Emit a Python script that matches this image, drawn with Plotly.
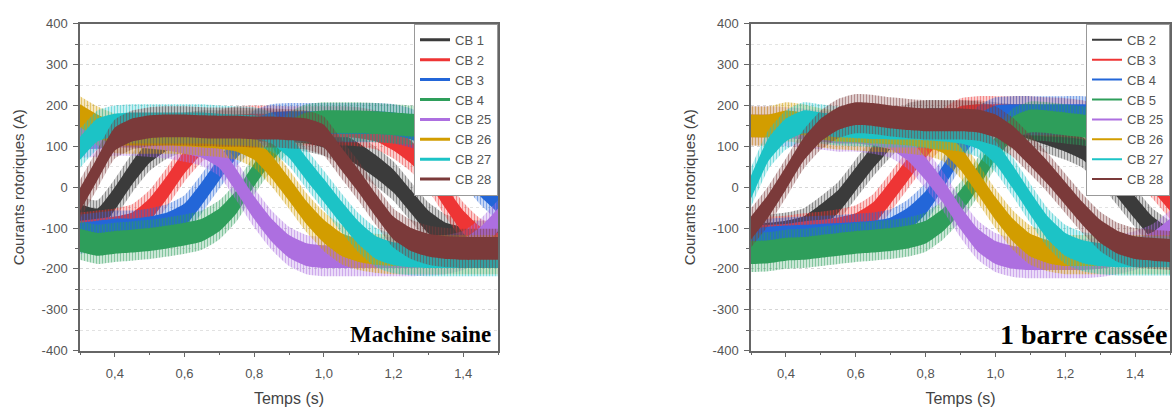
import plotly.graph_objects as go

# ---------------- data ----------------
T = [0.30, 0.35, 0.40, 0.45, 0.50, 0.55, 0.60, 0.65, 0.70, 0.75, 0.80, 0.85, 0.90,
     0.95, 1.00, 1.05, 1.10, 1.15, 1.20, 1.25, 1.30, 1.35, 1.40, 1.45, 1.50]

LEFT_NAMES = ["CB 1", "CB 2", "CB 3", "CB 4", "CB 25", "CB 26", "CB 27", "CB 28"]
RIGHT_NAMES = ["CB 2", "CB 3", "CB 4", "CB 5", "CB 25", "CB 26", "CB 27", "CB 28"]

# Machine saine (centre of each current band, A)
L_CB1 = [-70, -80, -28, 35, 88, 118, 135, 140, 140, 140, 140, 140, 138, 135, 125, 105, 80, 50, 15, -35, -85, -115, -125, -130, -130]
L_CB2 = [-110, -105, -100, -90, -55, 0, 62, 110, 140, 150, 152, 152, 150, 150, 150, 150, 148, 140, 118, 86, 40, -25, -85, -125, -140]
L_CB3 = [-115, -110, -105, -105, -100, -90, -68, -15, 45, 100, 140, 155, 158, 158, 158, 158, 158, 158, 155, 145, 125, 95, 55, 5, -35]
L_CB4 = [-130, -140, -135, -132, -128, -122, -115, -105, -80, -35, 30, 90, 135, 155, 160, 160, 160, 158, 155, 152, 150, 150, 145, 125, 80]
L_CB25 = [120, 122, 125, 125, 122, 118, 110, 100, 75, 15, -50, -105, -145, -165, -170, -170, -170, -170, -170, -170, -168, -165, -155, -125, -80]
L_CB26 = [175, 150, 132, 130, 130, 130, 128, 125, 122, 115, 95, 50, -5, -62, -108, -140, -155, -162, -165, -165, -165, -165, -165, -165, -165]
L_CB27 = [95, 140, 152, 155, 155, 155, 155, 155, 152, 150, 148, 135, 100, 45, -8, -62, -112, -148, -163, -168, -170, -170, -170, -170, -170]
L_CB28 = [-30, 45, 118, 140, 148, 150, 150, 148, 147, 147, 145, 145, 143, 140, 125, 70, 15, -45, -100, -128, -142, -148, -150, -150, -150]

# 1 barre cassee
R_CB2 = [-120, -115, -110, -100, -70, -35, 20, 75, 122, 158, 165, 165, 165, 165, 160, 155, 145, 130, 115, 95, 55, 3, -50, -100, -130]
R_CB3 = [-120, -120, -118, -112, -108, -102, -92, -65, -12, 45, 100, 145, 170, 175, 175, 175, 175, 172, 170, 165, 150, 120, 70, 20, -30]
R_CB4 = [-130, -125, -122, -120, -118, -116, -113, -110, -102, -78, -38, 25, 95, 150, 172, 175, 175, 175, 175, 175, 172, 165, 155, 135, 100]
R_CB5 = [-160, -158, -152, -150, -145, -140, -135, -132, -128, -122, -110, -80, -35, 25, 95, 145, 162, 160, 155, 150, 145, 140, 138, 135, 130]
R_CB25 = [150, 150, 148, 145, 140, 135, 135, 130, 120, 92, 45, -10, -75, -130, -160, -172, -175, -175, -175, -175, -172, -165, -155, -138, -105]
R_CB26 = [150, 150, 160, 155, 145, 140, 138, 135, 133, 130, 125, 112, 70, 10, -52, -105, -142, -158, -165, -165, -165, -165, -165, -165, -165]
R_CB27 = [0, 92, 140, 160, 155, 150, 148, 146, 145, 145, 143, 140, 135, 122, 85, 25, -40, -100, -140, -158, -165, -168, -168, -168, -168]
R_CB28 = [-100, -45, 22, 92, 140, 168, 180, 178, 172, 168, 165, 165, 165, 162, 150, 122, 80, 35, -15, -65, -108, -135, -148, -152, -155]

LEFT_SERIES = [L_CB1, L_CB2, L_CB3, L_CB4, L_CB25, L_CB26, L_CB27, L_CB28]
RIGHT_SERIES = [R_CB2, R_CB3, R_CB4, R_CB5, R_CB25, R_CB26, R_CB27, R_CB28]

RIPPLE_CORE = 28   # A, half-height of the dense ripple band
RIPPLE_PEAK = 48   # A, half-height reached by the ripple spikes

X_TICKS = [0.4, 0.6, 0.8, 1.0, 1.2, 1.4]
X_TICK_TEXT = ["0,4", "0,6", "0,8", "1,0", "1,2", "1,4"]
Y_TICKS = [-400, -300, -200, -100, 0, 100, 200, 300, 400]
Y_TICK_TEXT = ["-400", "-300", "-200", "-100", "0", "100", "200", "300", "400"]

# ---------------- style ----------------
COLORS = ["#3b3b3b", "#ee3535", "#2366d8", "#2e9e5b", "#ad6fe0", "#d29d00", "#1cc3c6", "#7b3a3a"]
W, H = 1173, 412
AX = "#666666"
TXT = "#555555"
FONT = "Liberation Sans, Arial, sans-serif"


def rgba(hexc, a):
    h = hexc.lstrip("#")
    r, g, b = int(h[0:2], 16), int(h[2:4], 16), int(h[4:6], 16)
    return f"rgba({r},{g},{b},{a})"


fig = go.Figure()


def add_band(center, half, color, core, xa, ya):
    lo = [v - half for v in center]
    hi = [v + half for v in center]
    line = dict(width=0, shape="spline", smoothing=0.5)
    fig.add_trace(go.Scatter(x=T, y=lo, mode="lines", line=line, hoverinfo="skip",
                             showlegend=False, xaxis=xa, yaxis=ya))
    if core:
        fig.add_trace(go.Scatter(x=T, y=hi, mode="lines", line=line, fill="tonexty",
                                 fillcolor=color, hoverinfo="skip",
                                 showlegend=False, xaxis=xa, yaxis=ya))
    else:
        fig.add_trace(go.Scatter(x=T, y=hi, mode="lines", line=line, fill="tonexty",
                                 fillcolor=rgba(color, 0.18),
                                 fillpattern=dict(shape="|", fgcolor=color, size=3,
                                                  solidity=0.45, fillmode="overlay"),
                                 hoverinfo="skip", showlegend=False, xaxis=xa, yaxis=ya))


for series, xa, ya in [(LEFT_SERIES, "x", "y"), (RIGHT_SERIES, "x2", "y2")]:
    for c, col in zip(series, COLORS):
        add_band(c, RIPPLE_PEAK, col, False, xa, ya)
        add_band(c, RIPPLE_CORE, col, True, xa, ya)

for names, leg, xa, ya, lw in [(LEFT_NAMES, "legend", "x", "y", 3), (RIGHT_NAMES, "legend2", "x2", "y2", 2)]:
    for n, col in zip(names, COLORS):
        fig.add_trace(go.Scatter(x=[None], y=[None], mode="lines", name=n,
                                 line=dict(color=col, width=lw), legend=leg,
                                 xaxis=xa, yaxis=ya))

ydom = [(H - 356.5) / H, (H - 17.5) / H]
xd1 = [80 / W, 498 / W]
xd2 = [751 / W, 1170 / W]


def xaxis(dom, anchor):
    return dict(domain=dom, anchor=anchor, range=[0.3, 1.5], tickmode="array",
                tickvals=X_TICKS, ticktext=X_TICK_TEXT, ticks="outside", ticklen=5,
                tickwidth=1.2, tickcolor=AX, showline=True, linecolor=AX, linewidth=1.5,
                mirror=True, showgrid=False, zeroline=False, ticklabelstandoff=5,
                tickfont=dict(family=FONT, size=13, color=TXT),
                minor=dict(tickmode="linear", tick0=0.3, dtick=0.1, ticks="outside",
                           ticklen=3, tickcolor=AX, showgrid=False),
                title=dict(text="Temps (s)", font=dict(family=FONT, size=16, color="#444"),
                           standoff=13))


def yaxis(anchor):
    return dict(domain=ydom, anchor=anchor, range=[-400, 400], tickmode="array",
                tickvals=Y_TICKS, ticktext=Y_TICK_TEXT, ticks="outside", ticklen=5,
                tickwidth=1.2, tickcolor=AX, showline=True, linecolor=AX, linewidth=1.5,
                mirror=True, showgrid=True, gridcolor="#d6d6d6", griddash="dot",
                gridwidth=1, zeroline=False, ticklabelstandoff=3,
                tickfont=dict(family=FONT, size=13, color=TXT),
                minor=dict(tickmode="linear", tick0=-400, dtick=50, ticks="outside",
                           ticklen=3, tickcolor=AX, showgrid=True, gridcolor="#e2e2e2",
                           griddash="dot", gridwidth=1),
                title=dict(text="Courants rotoriques (A)",
                           font=dict(family=FONT, size=15, color="#444"), standoff=13))


def legend(xr):
    return dict(x=xr, xanchor="right", y=ydom[1], yanchor="top", bgcolor="white",
                bordercolor="#999999", borderwidth=1, traceorder="normal",
                font=dict(family=FONT, size=13, color=TXT), itemwidth=30,
                tracegroupgap=0)


fig.update_layout(
    width=W, height=H, margin=dict(l=0, r=0, t=0, b=0),
    paper_bgcolor="white", plot_bgcolor="white", showlegend=True,
    xaxis=xaxis(xd1, "y"), yaxis=yaxis("x"),
    xaxis2=xaxis(xd2, "y2"), yaxis2=yaxis("x2"),
    legend=legend(xd1[1]), legend2=legend(xd2[1]),
    annotations=[
        dict(text="Machine saine", xref="paper", yref="paper", x=493 / W, y=(H - 340) / H,
             xanchor="right", yanchor="middle", showarrow=False,
             font=dict(family="Liberation Serif, Times New Roman, serif", size=23,
                       color="black", weight="bold")),
        dict(text="1 barre cassée", xref="paper", yref="paper", x=1169 / W, y=(H - 340) / H,
             xanchor="right", yanchor="middle", showarrow=False,
             font=dict(family="Liberation Serif, Times New Roman, serif", size=28,
                       color="black", weight="bold")),
    ],
)

fig.write_html("out.html")
